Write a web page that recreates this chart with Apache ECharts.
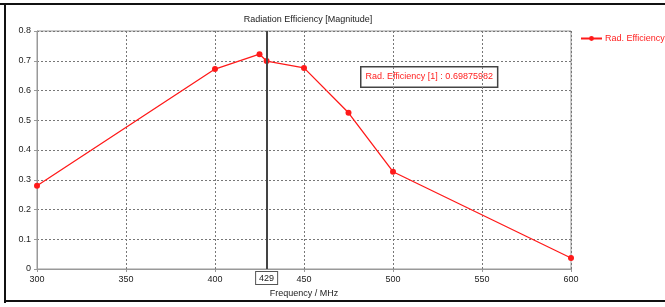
<!DOCTYPE html>
<html>
<head>
<meta charset="utf-8">
<script src="https://cdn.jsdelivr.net/npm/echarts@6/dist/echarts.min.js"></script>
<style>
  html, body { margin: 0; padding: 0; background: #fff; }
  #chart { width: 665px; height: 307px; }
</style>
</head>
<body>
<div id="chart"></div>
<script>
// frequency in MHz
var freqs = [300, 400, 425, 429, 450, 475, 500, 600];
var radEff = [0.28, 0.672, 0.722, 0.699, 0.676, 0.525, 0.327, 0.037];
var markerFreq = 429;
var markerText = 'Rad. Efficiency [1] : 0.69875982';

var FONT = 'Liberation Sans';

var chart = echarts.init(document.getElementById('chart'));

var option = {
  backgroundColor: '#fff',
  animation: false,
  textStyle: { fontFamily: FONT },
  title: {
    text: 'Radiation Efficiency [Magnitude]',
    left: 303,
    textAlign: 'center',
    top: 10,
    textStyle: { fontSize: 9, fontWeight: 'normal', color: '#222', fontFamily: FONT }
  },
  legend: {
    data: ['Rad. Efficiency'],
    left: 580,
    top: 34,
    padding: 0,
    itemWidth: 21,
    itemHeight: 6,
    itemGap: 3,
    textStyle: { fontSize: 9, color: '#ff2020', fontFamily: FONT, padding: [0, 0, 0, -2] }
  },
  grid: {
    left: 37,
    right: 94,
    top: 31,
    bottom: 38,
    show: true,
    borderColor: '#999',
    borderWidth: 1
  },
  xAxis: {
    type: 'value',
    min: 300,
    max: 600,
    interval: 50,
    name: 'Frequency / MHz',
    nameLocation: 'middle',
    nameGap: 17,
    nameTextStyle: { fontSize: 9, color: '#222' },
    axisLine: { lineStyle: { color: '#999' } },
    axisTick: { show: true, length: 3, lineStyle: { color: '#999' } },
    axisLabel: { fontSize: 9, color: '#222', margin: 6 },
    splitLine: { show: true, lineStyle: { color: '#777', type: [2, 2], width: 1 } }
  },
  yAxis: {
    type: 'value',
    min: 0,
    max: 0.8,
    interval: 0.1,
    axisLine: { show: true, lineStyle: { color: '#999' } },
    axisTick: { show: true, length: 3, lineStyle: { color: '#999' } },
    axisLabel: { fontSize: 9, color: '#222', margin: 6 },
    splitLine: { show: true, lineStyle: { color: '#777', type: [2, 2], width: 1 } }
  },
  series: [{
    name: 'Rad. Efficiency',
    type: 'line',
    data: freqs.map(function (f, i) { return [f, radEff[i]]; }),
    symbol: 'circle',
    symbolSize: 6,
    lineStyle: { color: '#ff1a1a', width: 1.3 },
    itemStyle: { color: '#ff1a1a' },
    markLine: {
      silent: true,
      symbol: ['none', 'none'],
      lineStyle: { color: '#444', type: 'solid', width: 2 },
      label: {
        show: true,
        position: 'start',
        formatter: String(markerFreq),
        fontSize: 9,
        color: '#222',
        backgroundColor: '#fff',
        borderColor: '#555',
        borderWidth: 1,
        padding: [2, 3, 1, 3],
        distance: 3
      },
      data: [{ xAxis: markerFreq }]
    }
  }],
  graphic: [
    { type: 'rect', shape: { x: 0, y: 3, width: 665, height: 2 }, style: { fill: '#111' } },
    { type: 'rect', shape: { x: 4, y: 3, width: 2, height: 300 }, style: { fill: '#111' } },
    { type: 'rect', shape: { x: 4, y: 300, width: 661, height: 2 }, style: { fill: '#111' } },
    {
      type: 'text',
      left: 360,
      top: 66,
      style: {
        text: markerText,
        font: '9px "Liberation Sans"',
        fill: '#ff2020',
        backgroundColor: '#fff',
        borderColor: '#444',
        borderWidth: 1.5,
        padding: [5, 4, 5, 4]
      }
    }
  ]
};

chart.setOption(option);
</script>
</body>
</html>
